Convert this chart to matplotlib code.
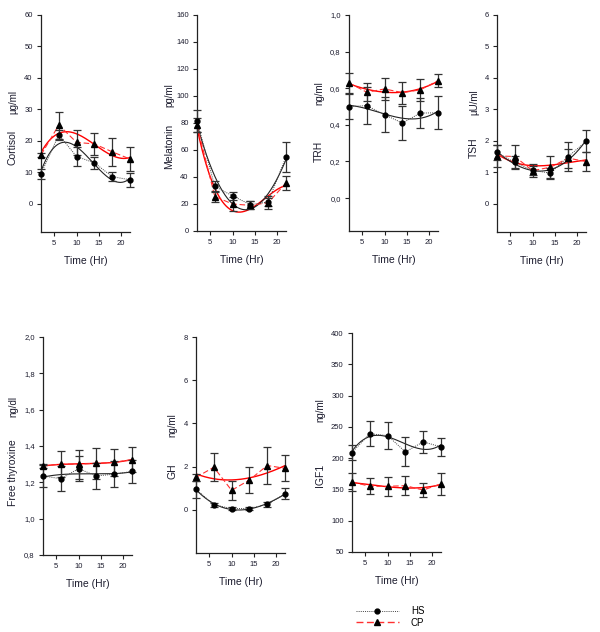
import numpy as np
import matplotlib
matplotlib.use('Agg')
import matplotlib.pyplot as plt
from matplotlib.ticker import FuncFormatter
from matplotlib.lines import Line2D

plt.rcParams['font.family'] = ['Liberation Sans', 'DejaVu Sans']

# Sampling times (hours)
time = [2, 6, 10, 14, 18, 22]

# Cortisol (ug/ml)
cort_hs = [9.5, 21.9, 15.0, 13.0, 8.6, 7.6]
cort_hs_err = [1.5, 1.5, 3.0, 2.0, 1.5, 2.3]
cort_cp = [15.5, 25.0, 19.5, 19.0, 16.5, 14.2]
cort_cp_err = [0.5, 4.3, 4.0, 3.5, 4.5, 3.7]

# Melatonin (pg/ml)
mel_hs = [81.7, 33.0, 26.0, 19.5, 21.5, 55.0]
mel_hs_err = [8.0, 4.0, 3.0, 3.0, 3.0, 11.0]
mel_cp = [78.5, 25.5, 20.0, 19.0, 21.0, 35.5]
mel_cp_err = [5.0, 4.0, 5.0, 3.0, 5.0, 5.5]

# TRH (ng/ml)
trh_hs = [0.50, 0.505, 0.455, 0.41, 0.464, 0.466]
trh_hs_err = [0.07, 0.10, 0.095, 0.095, 0.08, 0.09]
trh_cp = [0.629, 0.578, 0.596, 0.576, 0.591, 0.641]
trh_cp_err = [0.055, 0.05, 0.06, 0.06, 0.06, 0.035]

# TSH (uU/ml)
tsh_hs = [1.63, 1.31, 1.06, 0.97, 1.50, 1.98]
tsh_hs_err = [0.25, 0.2, 0.2, 0.17, 0.45, 0.35]
tsh_cp = [1.52, 1.50, 1.05, 1.16, 1.45, 1.34]
tsh_cp_err = [0.35, 0.37, 0.15, 0.35, 0.3, 0.3]

# Free thyroxine (ng/dl)
ft4_hs = [1.235, 1.22, 1.275, 1.235, 1.245, 1.26]
ft4_hs_err = [0.06, 0.07, 0.07, 0.07, 0.07, 0.065]
ft4_cp = [1.29, 1.30, 1.30, 1.305, 1.31, 1.325]
ft4_cp_err = [0.01, 0.07, 0.08, 0.085, 0.075, 0.07]

# GH (ng/ml)
gh_hs = [0.95, 0.23, 0.06, 0.06, 0.25, 0.74]
gh_hs_err = [0.4, 0.1, 0.05, 0.05, 0.1, 0.25]
gh_cp = [1.5, 1.97, 0.9, 1.38, 2.05, 1.92]
gh_cp_err = [0.15, 0.65, 0.45, 0.6, 0.85, 0.6]

# IGF1 (ng/ml)
igf_hs = [209, 239, 236, 210, 226, 218]
igf_hs_err = [12, 20, 21, 23, 17, 14]
igf_cp = [162, 155, 155, 156, 149, 159]
igf_cp_err = [15, 13, 15, 15, 11, 18]

W, H = 600, 632
fig = plt.figure(figsize=(W / 100, H / 100), dpi=100)

# name, unit, hs, hs_err, cp, cp_err, ylim, ystep, decimals, axes box in px (left, top, bottom),
# label x offset px, name y frac, unit y frac
panels = [
    ('Cortisol', 'µg/ml', cort_hs, cort_hs_err, cort_cp, cort_cp_err, (-9, 60), 10, 0, (41, 15, 232), -28, 0.39, 0.60),
    ('Melatonin', 'pg/ml', mel_hs, mel_hs_err, mel_cp, mel_cp_err, (0, 160), 20, 0, (197, 15, 231), -28, 0.39, 0.63),
    ('TRH', 'ng/ml', trh_hs, trh_hs_err, trh_cp, trh_cp_err, (-0.18, 1.0), 0.2, 1, (349, 15, 231), -30, 0.37, 0.64),
    ('TSH', 'µU/ml', tsh_hs, tsh_hs_err, tsh_cp, tsh_cp_err, (-0.9, 6), 1, 0, (497, 15, 232), -23, 0.39, 0.60),
    ('Free thyroxine', 'ng/dl', ft4_hs, ft4_hs_err, ft4_cp, ft4_cp_err, (0.8, 2.0), 0.2, 1, (43, 337, 555), -30, 0.38, 0.68),
    ('GH', 'ng/ml', gh_hs, gh_hs_err, gh_cp, gh_cp_err, (-2, 8), 2, 0, (196, 337, 553), -24, 0.38, 0.59),
    ('IGF1', 'ng/ml', igf_hs, igf_hs_err, igf_cp, igf_cp_err, (50, 400), 50, 0, (352, 333, 552), -32, 0.35, 0.65),
]

ax_w = 89
text_col = '#1c1c2e'
err_col = '#333333'

for name, unit, hs, hs_err, cp, cp_err, ylim, ystep, dec, box, lx, ny, uy in panels:
    left, top, bottom = box
    ax = fig.add_axes([left / W, 1 - bottom / H, ax_w / W, (bottom - top) / H])
    t = np.array(time, dtype=float)
    tt = np.linspace(2, 22, 200)

    # regression curves (cubic fit of the means)
    fit_hs = np.polyval(np.polyfit(t, hs, 3), tt)
    fit_cp = np.polyval(np.polyfit(t, cp, 3), tt)
    ax.plot(tt, fit_cp, color='red', lw=1.0, zorder=2)
    ax.plot(tt, fit_hs, color='#222222', lw=0.8, zorder=2)

    # connecting lines
    ax.plot(t, cp, color='#ff3030', lw=0.8, ls=(0, (5, 2.5)), zorder=2)
    ax.plot(t, hs, color='#444444', lw=0.7, ls=(0, (1, 1.2)), zorder=2)

    ax.errorbar(t, hs, yerr=hs_err, fmt='o', ms=3.5, color='black', ecolor=err_col,
                elinewidth=0.9, capsize=3, capthick=0.9, zorder=4, clip_on=False)
    ax.errorbar(t, cp, yerr=cp_err, fmt='^', ms=4, color='black', ecolor=err_col,
                elinewidth=0.9, capsize=3, capthick=0.9, zorder=4, clip_on=False)

    ax.set_xlim(2, 22)
    ax.set_ylim(*ylim)
    ax.set_xticks([5, 10, 15, 20])
    start = 0 if ylim[0] < 0 else ylim[0]
    ax.set_yticks(np.arange(start, ylim[1] + ystep / 2, ystep))
    if dec:
        ax.yaxis.set_major_formatter(FuncFormatter(lambda v, p: f'{v:.1f}'.replace('.', ',')))
    else:
        ax.yaxis.set_major_formatter(FuncFormatter(lambda v, p: f'{v:.0f}'))

    for s in ['top', 'right']:
        ax.spines[s].set_visible(False)
    for s in ['left', 'bottom']:
        ax.spines[s].set_linewidth(0.9)
        ax.spines[s].set_color('#222222')
    ax.tick_params(direction='out', length=3, width=0.8, labelsize=5.5,
                   colors='#222222', labelcolor=text_col, pad=3)

    ax.set_xlabel('Time (Hr)', fontsize=7.5, color=text_col, labelpad=6)
    lxf = lx / ax_w
    ax.text(lxf, ny, name, transform=ax.transAxes, rotation=90, fontsize=7.5,
            color=text_col, ha='center', va='center')
    ax.text(lxf, uy, unit, transform=ax.transAxes, rotation=90, fontsize=7,
            color=text_col, ha='center', va='center')

handles = [
    Line2D([], [], color='#444444', lw=0.7, ls=(0, (1, 1.2)), marker='o', ms=3.5,
           mfc='black', mec='black'),
    Line2D([], [], color='#ff3030', lw=1.0, ls=(0, (5, 2.5)), marker='^', ms=4,
           mfc='black', mec='black'),
]
fig.legend(handles, ['HS', 'CP'], loc='center', bbox_to_anchor=(0.65, 1 - 617 / H),
           frameon=False, fontsize=7, handlelength=4.5, handletextpad=1.2, labelspacing=0.15)

fig.savefig('out.png', dpi=100)
